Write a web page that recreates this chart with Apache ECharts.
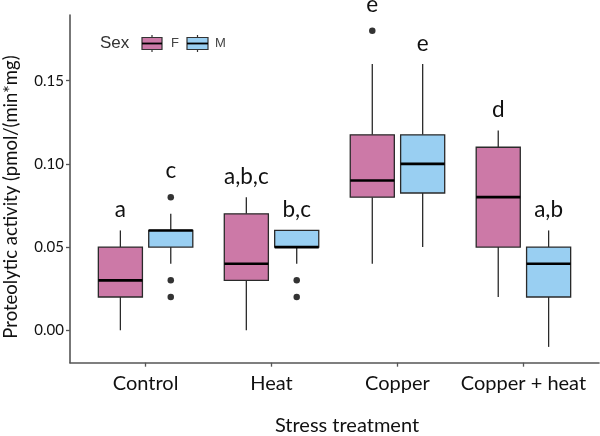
<!DOCTYPE html>
<html><head><meta charset="utf-8">
<script src="https://cdn.jsdelivr.net/npm/echarts@6/dist/echarts.min.js"></script>
<style>html,body{margin:0;padding:0;background:#fff}#c{width:600px;height:436px}</style>
</head><body><div id="c"></div>
<script>
var categories = ['Control', 'Heat', 'Copper', 'Copper + heat'];
// [min, q1, median, q3, max]
var femaleBox = [[0.00,0.02,0.03,0.05,0.06],[0.00,0.03,0.04,0.07,0.08],[0.04,0.08,0.09,0.1175,0.16],[0.02,0.05,0.08,0.11,0.12]];
var maleBox = [[0.04,0.05,0.06,0.06,0.07],[0.04,0.05,0.05,0.06,0.06],[0.05,0.0825,0.10,0.1175,0.16],[-0.01,0.02,0.04,0.05,0.06]];
// [category index, value]
var femaleOutliers = [[2,0.18]];
var maleOutliers = [[0,0.08],[0,0.03],[0,0.02],[1,0.03],[1,0.02]];
var femaleLetters = ['a','a,b,c','e','d'];
var maleLetters = ['c','b,c','e','a,b'];
var yTicks = [0, 0.05, 0.10, 0.15];

var FCOL = '#CC79A7', MCOL = '#99CFF2';
var OFF = 0.2, HALF = 0.175;
var FONT = 'Lato';

function boxData(arr, sign){ return arr.map(function(b,i){ return [i, sign].concat(b); }); }
function outData(arr, sign){ return arr.map(function(o){ return [o[0]+1+sign*OFF, o[1]]; }); }
function letterData(letters, boxes, outs, sign){
  return letters.map(function(t,i){
    var top = boxes[i][4], hasOut = 0;
    outs.forEach(function(o){ if(o[0]===i && o[1]>top){ top=o[1]; hasOut=1; } });
    return [i+1+sign*OFF, top, hasOut];
  });
}

function renderBox(color){
  return function(params, api){
    var ci = api.value(0), s = api.value(1);
    var xc = ci + 1 + s*OFF;
    var lo = api.value(2), q1 = api.value(3), md = api.value(4), q3 = api.value(5), hi = api.value(6);
    var pL = api.coord([xc-HALF, q3]), pR = api.coord([xc+HALF, q1]);
    var c = api.coord([xc, md]);
    var pHi = api.coord([xc, hi]), pLo = api.coord([xc, lo]), pQ3 = api.coord([xc,q3]), pQ1 = api.coord([xc,q1]);
    var stroke = '#2a2a2a';
    return {type:'group', children:[
      {type:'line', shape:{x1:pHi[0],y1:pHi[1],x2:pQ3[0],y2:pQ3[1]}, style:{stroke:stroke,lineWidth:1.3}},
      {type:'line', shape:{x1:pQ1[0],y1:pQ1[1],x2:pLo[0],y2:pLo[1]}, style:{stroke:stroke,lineWidth:1.3}},
      {type:'rect', shape:{x:pL[0], y:pL[1], width:pR[0]-pL[0], height:pR[1]-pL[1]}, style:{fill:color, stroke:stroke, lineWidth:1.3}},
      {type:'line', shape:{x1:pL[0],y1:c[1],x2:pR[0],y2:c[1]}, style:{stroke:'#000',lineWidth:2.6}}
    ]};
  };
}
function renderLetter(letters){
  return function(params, api){
    var p = api.coord([api.value(0), api.value(1)]);
    var off = api.value(2) ? 15 : 9;
    return {type:'text', x:p[0], y:p[1]-off, style:{text: letters[params.dataIndex], fontFamily:FONT, fontSize:22.5, fill:'#111', align:'center', verticalAlign:'bottom'}};
  };
}

var chart = echarts.init(document.getElementById('c'), null, {renderer:'canvas'});
chart.setOption({
  animation:false,
  grid:{left:70, right:1, top:15, bottom:73.3, containLabel:false},
  xAxis:{type:'value', min:0.4, max:4.6,
    axisLine:{show:true, onZero:false, lineStyle:{color:'#555', width:1.6}},
    axisTick:{show:true, customValues:[1,2,3,4], length:4, lineStyle:{color:'#555', width:1.3}},
    axisLabel:{customValues:[1,2,3,4], formatter:function(v){return categories[Math.round(v)-1];}, fontFamily:FONT, fontSize:20, color:'#111', margin:11},
    splitLine:{show:false}},
  yAxis:{type:'value', min:-0.0195, max:0.1895,
    axisLine:{show:true, onZero:false, lineStyle:{color:'#555', width:1.6}},
    axisTick:{show:true, customValues:yTicks, length:4, lineStyle:{color:'#555', width:1.3}},
    axisLabel:{customValues:yTicks, formatter:function(v){return v.toFixed(2);}, fontFamily:FONT, fontSize:15, color:'#111', margin:6},
    splitLine:{show:false}},
  graphic:[
    {type:'text', x:11, y:197, rotation:Math.PI/2, style:{text:'Proteolytic activity (pmol/(min*mg)', fontFamily:FONT, fontSize:18.5, fill:'#111', align:'center', verticalAlign:'middle'}},
    {type:'text', x:347, y:426, style:{text:'Stress treatment', fontFamily:FONT, fontSize:20, fill:'#111', align:'center', verticalAlign:'middle'}},
    {type:'text', x:100, y:43, style:{text:'Sex', fontFamily:'Liberation Sans', fontSize:17, fill:'#333', align:'left', verticalAlign:'middle'}},
    {type:'group', x:142, y:35, children:[
      {type:'line', shape:{x1:10,y1:0,x2:10,y2:17}, style:{stroke:'#333',lineWidth:1.2}},
      {type:'rect', shape:{x:0,y:2.5,width:20,height:12}, style:{fill:FCOL, stroke:'#333', lineWidth:1.2}},
      {type:'line', shape:{x1:0,y1:8.5,x2:20,y2:8.5}, style:{stroke:'#000',lineWidth:1.8}}
    ]},
    {type:'text', x:171, y:43, style:{text:'F', fontFamily:'Liberation Sans', fontSize:13, fill:'#444', align:'left', verticalAlign:'middle'}},
    {type:'group', x:187, y:35, children:[
      {type:'line', shape:{x1:10.5,y1:0,x2:10.5,y2:17}, style:{stroke:'#333',lineWidth:1.2}},
      {type:'rect', shape:{x:0,y:2.5,width:21,height:12}, style:{fill:MCOL, stroke:'#333', lineWidth:1.2}},
      {type:'line', shape:{x1:0,y1:8.5,x2:21,y2:8.5}, style:{stroke:'#000',lineWidth:1.8}}
    ]},
    {type:'text', x:215, y:43, style:{text:'M', fontFamily:'Liberation Sans', fontSize:13, fill:'#444', align:'left', verticalAlign:'middle'}}
  ],
  series:[
    {type:'custom', name:'F', renderItem:renderBox(FCOL), data:boxData(femaleBox,-1), encode:{x:-1,y:[2,6]}},
    {type:'custom', name:'M', renderItem:renderBox(MCOL), data:boxData(maleBox,1), encode:{x:-1,y:[2,6]}},
    {type:'scatter', data:outData(femaleOutliers,-1), symbolSize:6.5, itemStyle:{color:'#000'}},
    {type:'scatter', data:outData(maleOutliers,1), symbolSize:6.5, itemStyle:{color:'#000'}},
    {type:'custom', clip:false, renderItem:renderLetter(femaleLetters), data:letterData(femaleLetters,femaleBox,femaleOutliers,-1)},
    {type:'custom', clip:false, renderItem:renderLetter(maleLetters), data:letterData(maleLetters,maleBox,maleOutliers,1)}
  ]
});
</script></body></html>
